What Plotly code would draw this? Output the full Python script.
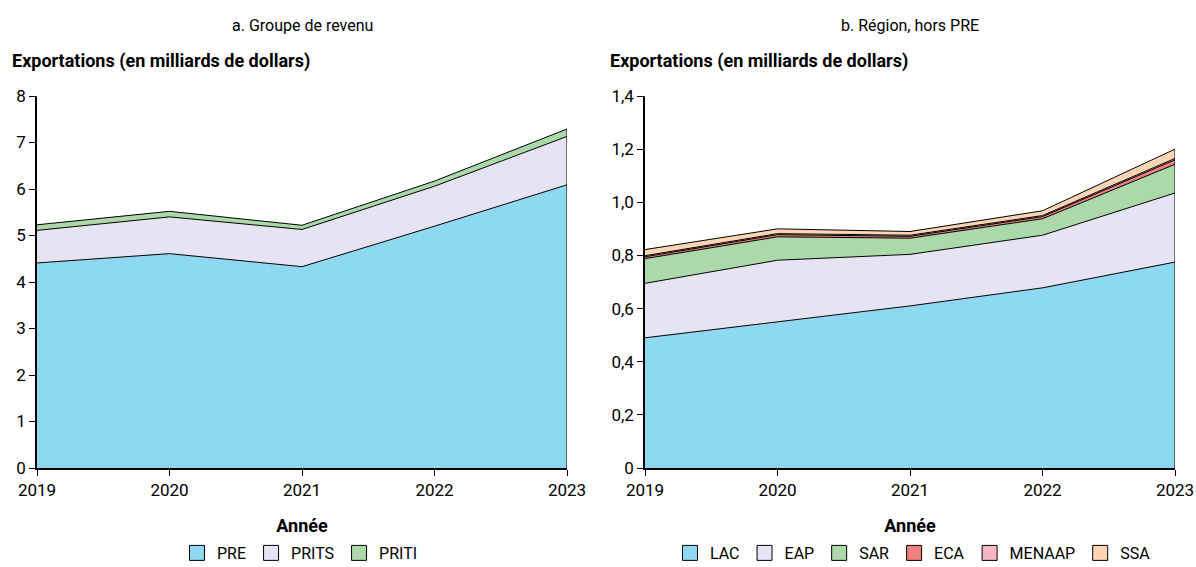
import plotly.graph_objects as go

years = [2019, 2020, 2021, 2022, 2023]

# panel a: income group (billions of dollars)
income_groups = ["PRE", "PRITS", "PRITI"]
pre = [4.41, 4.61, 4.33, 5.20, 6.09]
prits = [0.70, 0.79, 0.80, 0.86, 1.04]
priti = [0.12, 0.12, 0.09, 0.11, 0.16]

# panel b: region, excluding PRE (billions of dollars)
regions = ["LAC", "EAP", "SAR", "ECA", "MENAAP", "SSA"]
lac = [0.490, 0.550, 0.610, 0.678, 0.775]
eap = [0.205, 0.232, 0.194, 0.198, 0.260]
sar = [0.093, 0.088, 0.061, 0.062, 0.108]
eca = [0.007, 0.008, 0.007, 0.008, 0.017]
menaap = [0.004, 0.004, 0.004, 0.004, 0.005]
ssa = [0.023, 0.018, 0.014, 0.018, 0.035]

y_ticks_b = [0, 0.2, 0.4, 0.6, 0.8, 1.0, 1.2, 1.4]
y_ticktext_b = ["0", "0,2", "0,4", "0,6", "0,8", "1,0", "1,2", "1,4"]

colors = {
    "PRE": "#8fd8f1", "PRITS": "#e6e4f3", "PRITI": "#acd9aa",
    "LAC": "#8fd8f1", "EAP": "#e6e4f3", "SAR": "#acd9aa",
    "ECA": "#ef7f7f", "MENAAP": "#f7b6c6", "SSA": "#fcd6b4",
}

FONT = "Roboto, Liberation Sans, sans-serif"
W, H = 1196, 567
# plot area in page pixels
L, R, T, B = 37, 1175, 96, 468


def fx(px):
    return (px - L) / (R - L)


def fy(py):
    return (B - py) / (B - T)


fig = go.Figure()


def add_stack(names, series, xa, ya, group, legend):
    for name, vals in zip(names, series):
        fig.add_trace(go.Scatter(
            x=years, y=vals, name=name, stackgroup=group, mode="lines",
            line=dict(color="black", width=1), fillcolor=colors[name],
            xaxis=xa, yaxis=ya, showlegend=False, hoverinfo="x+y+name",
        ))
        # legend swatch
        fig.add_trace(go.Scatter(
            x=[None], y=[None], name=name, mode="markers",
            marker=dict(symbol="square", size=15, color=colors[name],
                        line=dict(color="black", width=1)),
            xaxis=xa, yaxis=ya, legend=legend,
        ))
    # outline on the right edge of the stack
    total = sum(s[-1] for s in series)
    fig.add_trace(go.Scatter(
        x=[years[-1], years[-1]], y=[0, total], mode="lines",
        line=dict(color="black", width=1), xaxis=xa, yaxis=ya,
        showlegend=False, hoverinfo="skip",
    ))


add_stack(income_groups, [pre, prits, priti], "x", "y", "a", "legend")
add_stack(regions, [lac, eap, sar, eca, menaap, ssa], "x2", "y2", "b", "legend2")

axis_common = dict(
    showgrid=False, zeroline=False, showline=True, linecolor="black",
    linewidth=1.5, ticks="outside", ticklen=6, tickwidth=1.2, tickcolor="black",
    tickfont=dict(size=17, color="black"), automargin=False,
)
xa_common = dict(axis_common, range=[2019, 2023], tickvals=years,
                 title=dict(text="<b>Année</b>", font=dict(size=18, color="black"),
                            standoff=20))

legend_common = dict(orientation="h", y=fy(553), yanchor="middle",
                     xanchor="center", font=dict(size=16), itemwidth=30,
                     traceorder="normal", tracegroupgap=0)

fig.update_layout(
    width=W, height=H,
    margin=dict(l=L, r=W - R, t=T, b=H - B, autoexpand=False),
    paper_bgcolor="white", plot_bgcolor="white",
    font=dict(family=FONT, color="black"),
    separators=", ",
    xaxis=dict(xa_common, domain=[fx(37), fx(567)], anchor="y"),
    yaxis=dict(axis_common, domain=[0, 1], range=[0, 8], dtick=1, anchor="x"),
    xaxis2=dict(xa_common, domain=[fx(645), fx(1175)], anchor="y2"),
    yaxis2=dict(axis_common, domain=[0, 1], range=[0, 1.4],
                tickvals=y_ticks_b, ticktext=y_ticktext_b, anchor="x2"),
    legend=dict(legend_common, x=fx(300)),
    legend2=dict(legend_common, x=fx(913)),
    showlegend=True,
    annotations=[
        dict(text="a. Groupe de revenu", x=fx(302), y=fy(26), xref="paper",
             yref="paper", showarrow=False, xanchor="center", yanchor="middle",
             font=dict(size=16)),
        dict(text="b. Région, hors PRE", x=fx(910), y=fy(26), xref="paper",
             yref="paper", showarrow=False, xanchor="center", yanchor="middle",
             font=dict(size=16)),
        dict(text="<b>Exportations (en milliards de dollars)</b>", x=fx(10),
             y=fy(61), xref="paper", yref="paper", showarrow=False,
             xanchor="left", yanchor="middle", font=dict(size=18)),
        dict(text="<b>Exportations (en milliards de dollars)</b>", x=fx(608),
             y=fy(61), xref="paper", yref="paper", showarrow=False,
             xanchor="left", yanchor="middle", font=dict(size=18)),
    ],
)

# drop the default page margin so the figure fills the window exactly
fig.write_html(
    "out.html",
    config={"displayModeBar": False},
    post_script="document.body.style.margin='0';document.body.style.overflow='hidden';",
)
